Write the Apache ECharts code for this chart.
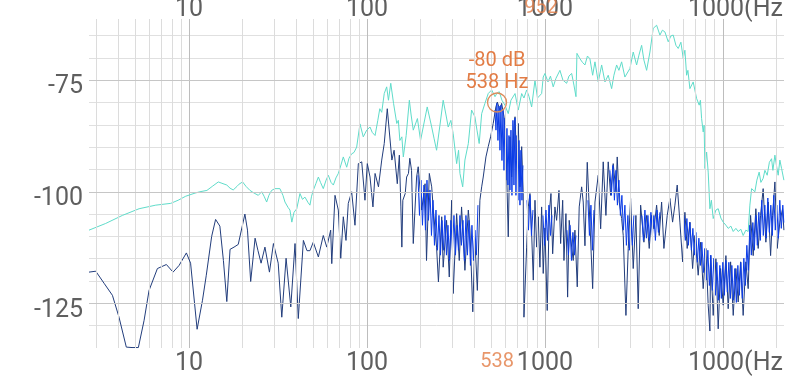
<!DOCTYPE html>
<html><head><meta charset="utf-8">
<script src="https://cdn.jsdelivr.net/npm/echarts@6/dist/echarts.min.js"></script>
<style>html,body{margin:0;padding:0;background:#fff}#c{width:792px;height:376px}</style>
</head><body><div id="c"></div>
<script>
// ---- axes ----
const xMin = 2.74, xMax = 22050;
const yMin = -135, yMax = -61.3;
const xTickValues = [10, 100, 1000, 10000];
const xTickLabels = ['10', '100', '1000', '1000(Hz'];
const xMinorLines = [3,4,5,6,7,8,9,20,30,40,50,60,70,80,90,200,300,400,500,600,700,800,900,2000,3000,4000,5000,6000,7000,8000,9000,20000];
const yTickLabels = [-75, -100, -125];
const yGridStep = 5;

// ---- cyan spectrum (Hz, dB) ----
const cyanFreq = [
2.74,3.40,4.22,5.24,6.50,7.89,8.68,9.58,10.8,11.5,
12.6,13.5,14.6,15.3,16.3,17.0,17.7,18.6,19.1,20.0,
20.9,22.0,23.2,24.5,25.6,26.4,27.3,28.1,29.1,30.4,
32.4,33.7,34.6,36.0,36.9,37.8,38.9,40.3,42.0,43.4,
44.8,46.6,47.8,48.8,49.9,51.7,53.3,54.8,56.8,58.9,
60.6,62.8,64.7,66.9,69.0,71.4,73.6,76.9,79.2,82.0,
84.5,87.5,91.3,95.3,99.6,104,107,111,115,118,
121,125,129,132,136,141,147,150,153,157,
160,166,173,177,182,192,200,207,218,231,
238,246,257,268,278,286,296,305,319,327,
333,345,355,371,387,404,415,427,441,460,
480,502,524,538,554,573,596,622,644,679,
708,740,762,789,813,842,879,908,958,978,
1000,1040,1074,1113,1153,1214,1262,1324,1364,1413,
1455,1494,1513,1573,1624,1678,1733,1789,1854,1910,
1993,2083,2174,2268,2370,2441,2528,2604,2697,2814,
3002,3134,3275,3375,3494,3599,3727,3890,4060,4242,
4427,4572,4723,4929,5104,5258,5445,5610,5808,5984,
6116,6254,6359,6525,6809,7116,7361,7476,7592,7750,
7843,7924,8099,8268,8453,8617,8822,9135,9410,9744,
10040,10400,10710,11090,11430,11830,12190,12620,13000,13460,
13870,14180,14500,15130,15520,15990,16350,16840,17220,17740,
18250,18770,19100,19600,19980,20450,20900,21370,22020];
const cyanDb = [
-108.6,-107.1,-105.3,-103.8,-103.0,-102.6,-101.9,-101.0,-100.3,-100.0,
-99.7,-98.8,-97.8,-98.1,-98.5,-99.2,-99.6,-98.8,-98.3,-97.8,
-98.8,-99.7,-100.3,-100.8,-100.0,-101.0,-102.3,-100.8,-99.7,-99.3,
-99.3,-100.8,-102.3,-103.5,-104.1,-106.8,-104.6,-103.8,-100.4,-101.7,
-101.2,-102.4,-103.0,-101.0,-99.7,-98.1,-96.7,-97.9,-99.3,-97.4,
-96.3,-97.9,-98.5,-96.9,-95.9,-94.0,-92.2,-94.5,-92.5,-91.5,
-91.2,-90.0,-84.8,-87.7,-86.2,-85.5,-86.7,-87.4,-84.0,-81.4,
-82.2,-78.0,-76.5,-79.5,-75.7,-80.2,-84.7,-84.0,-88.5,-87.7,
-92.2,-87.4,-79.5,-82.8,-86.2,-83.6,-88.5,-85.5,-81.0,-85.5,
-88.0,-90.7,-85.1,-79.5,-82.8,-85.5,-84.0,-87.0,-93.7,-90.7,
-95.9,-98.9,-92.9,-89.2,-81.7,-83.2,-86.2,-89.2,-82.5,-80.2,
-78.0,-77.2,-78.7,-77.9,-77.6,-79.5,-80.6,-82.5,-79.5,-78.0,
-81.7,-78.0,-79.0,-77.2,-78.6,-81.0,-75.0,-79.0,-78.0,-74.3,
-73.5,-75.4,-74.1,-76.5,-74.6,-72.8,-75.0,-75.7,-74.1,-73.5,
-76.1,-78.7,-69.0,-70.2,-71.0,-71.6,-69.6,-70.2,-73.9,-70.9,
-75.4,-71.6,-75.4,-73.9,-76.9,-73.9,-71.6,-72.8,-70.9,-74.3,
-72.4,-68.7,-71.6,-69.4,-67.2,-70.5,-72.8,-68.7,-63.4,-62.7,
-64.9,-63.8,-64.2,-66.4,-65.1,-64.9,-67.2,-67.9,-66.5,-70.1,
-68.3,-73.9,-72.8,-76.9,-75.4,-79.1,-80.6,-79.5,-83.6,-86.6,
-85.1,-94.8,-91.1,-95.6,-103.8,-101.9,-106.0,-104.1,-103.8,-105.9,
-106.8,-107.5,-108.2,-107.7,-108.9,-108.2,-108.9,-108.4,-109.8,-108.6,
-108.9,-103.0,-99.3,-100.0,-97.4,-95.6,-97.9,-97.0,-95.2,-96.3,
-93.4,-92.6,-95.2,-91.8,-94.0,-96.3,-92.9,-94.8,-97.4];

// ---- navy spectrum (Hz, dB) ----
const navyFreq = [
2.74,2.99,3.33,3.71,4.04,4.44,4.78,5.19,5.59,5.96,
6.64,7.46,8.13,8.79,9.66,10.2,11.1,11.9,12.5,13.4,
14.1,14.9,15.6,16.3,17.0,17.9,18.9,20.6,21.3,22.2,
23.5,24.4,25.4,26.7,28.3,29.8,31.7,33.2,35.1,37.3,
39.4,41.1,43.9,46.0,47.8,49.9,53.3,56.8,59.4,62.5,
63.4,66.1,69.0,71.2,73.6,76.2,78.5,82.0,85.6,89.4,
93.4,97.4,100.4,104,108,111,116,121,125,130,
133,138,142,148,152,155,157,159,164,167,
171,174,178,182,190,194,203,212,216,224,
231,236,246,252,263,268,280,290,299,305,
319,330,340,355,371,379,393,404,417,431,
441,450,466,480,495,512,530,540,559,571,
589,604,622,636,650,670,679,693,708,724,
740,755,762,789,806,824,842,860,879,898,
917,937,958,978,1000,1030,1057,1081,1105,1138,
1163,1199,1225,1258,1279,1312,1341,1369,1413,1442,
1474,1519,1558,1608,1641,1678,1729,1789,1854,1910,
1993,2056,2126,2201,2268,2339,2419,2506,2548,2615,
2697,2754,2852,2938,3030,3134,3245,3343,3449,3599,
3727,3855,3976,4097,4242,4387,4525,4661,4865,5037,
5216,5374,5537,5733,5937,6116,6301,6525,6757,6961,
7264,7494,7750,8025,8268,8453,8530,8822,9135,9410,
9707,10040,10397,10710,11050,11430,11830,12190,12570,13000,
13460,13870,14310,14800,15320,15790,16280,16840,17440,17970,
18540,19020,19600,20190,20900,21650,22020];
const navyDb = [
-118.0,-117.8,-120.5,-123.2,-128.1,-134.8,-134.9,-134.9,-128.8,-122.1,
-117.2,-116.3,-118.0,-116.5,-113.7,-116.0,-130.8,-124.3,-118.7,-110.0,
-106.2,-107.7,-115.4,-124.6,-112.9,-112.4,-111.8,-105.0,-108.6,-120.1,
-110.4,-113.2,-116.0,-112.4,-118.0,-111.6,-116.0,-128.1,-114.9,-125.8,
-111.6,-128.4,-110.9,-113.2,-113.2,-111.3,-114.6,-109.8,-112.4,-108.6,
-116.1,-100.8,-104.1,-114.9,-105.6,-110.9,-102.6,-100.0,-107.5,-93.7,
-93.3,-101.9,-93.7,-96.7,-103.4,-95.9,-98.9,-92.9,-89.2,-81.4,
-81.7,-92.9,-90.7,-98.2,-91.8,-103.4,-112.4,-101.9,-100.4,-96.7,
-95.9,-92.5,-95.2,-111.6,-96.7,-94.4,-104.1,-98.2,-115.4,-95.9,
-98.9,-104.1,-112.4,-120.2,-105.6,-116.9,-106.4,-119.1,-101.9,-122.8,
-104.9,-115.4,-103.4,-117.6,-104.1,-108.6,-126.9,-110.9,-122.1,-101.9,
-98.9,-96.7,-92.2,-89.9,-87.7,-84.7,-81.0,-79.9,-81.8,-80.2,
-83.2,-89.2,-110.1,-87.7,-96.7,-85.5,-83.2,-92.9,-84.7,-98.9,
-89.9,-100.4,-128.1,-112.4,-103.4,-100.4,-109.4,-119.8,-101.9,-112.4,
-105.6,-116.9,-103.4,-118.3,-108.1,-126.6,-104.9,-100.4,-113.9,-103.4,
-106.4,-99.7,-111.6,-101.9,-115.4,-104.9,-123.6,-106.4,-112.4,-115.4,
-108.6,-121.3,-103.4,-98.9,-102.3,-112.1,-93.4,-106.8,-121.7,-102.3,
-96.3,-108.3,-93.3,-105.3,-93.3,-100.8,-93.7,-100.0,-92.2,-102.3,
-106.0,-109.8,-127.7,-112.7,-101.5,-117.2,-105.3,-126.2,-103.0,-111.3,
-105.3,-112.7,-105.3,-108.3,-103.0,-109.8,-102.3,-112.7,-105.3,-101.5,
-106.8,-103.0,-98.5,-106.8,-115.7,-104.6,-112.7,-106.8,-117.2,-109.8,
-118.7,-111.3,-121.7,-112.7,-125.4,-131.2,-114.3,-127.7,-115.0,-130.7,
-117.2,-125.4,-114.3,-126.2,-115.7,-127.7,-117.2,-124.7,-115.7,-127.7,
-115.7,-121.7,-105.3,-114.3,-103.8,-112.7,-105.3,-99.3,-111.3,-102.3,
-114.3,-105.3,-97.8,-112.7,-106.8,-103.8,-108.6];

// ---- bright blue dense core, in separate stretches (Hz, dB) ----
const blueFreq = [
[193.4,197.2,201.0,205.0,209.0,213.1,217.3,221.5,225.9,230.3,234.8,239.4,244.1,248.9,253.8,258.7,263.8,269.0,274.2,279.6,285.1,290.7,296.4,302.2,308.1,314.1,320.3,326.5,332.9,339.4,346.1,352.9,359.8,366.8,374.0,381.3,388.8,396.4,404.2,412.1,420.2],
[523.7,530.5,537.4,544.4,551.5,558.7,566.0,573.3,580.8,588.4,596.0,603.8,611.6,619.6,627.7,635.8,644.1,652.5,661.0,669.6,678.3,687.1,696.1,705.1,714.3,723.6,733.0,742.6,752.2],
[792.4,807.9,823.7,839.8,856.3],
[974.4,993.5,1013,1033,1053,1074,1095],
[1329,1355,1382,1409,1436,1465,1493],
[1744,1778,1813,1848,1885],
[2318,2363,2409,2457,2505,2554,2604,2655,2707,2760,2814,2869,2925,2982,3041,3100,3161],
[3507,3576,3646,3717,3790,3864,3940,4017,4096,4176,4258,4341,4426],
[6037,6155,6276,6399,6524,6652,6782,6915,7050,7188,7329,7473,7619,7768,7920,8075,8234,8395,8559,8727,8898,9072,9249,9430,9615,9803,9995,10191,10391,10594,10802,11013,11229,11449,11673,11902,12135,12372,12615,12862,13114,13370,13632,13899,14171,14449,14732,15020,15314,15614,15920,16231,16549,16873,17203,17540,17884,18234,18591,18955,19326,19704,20090,20483,20884,21293,21710,22000]];
const blueDb = [
[-96.3,-105.3,-97.4,-107.5,-98.5,-108.6,-97.4,-106.4,-99.6,-109.8,-101.9,-112.0,-104.1,-113.1,-105.3,-114.2,-106.4,-113.1,-105.3,-114.2,-107.5,-115.4,-106.4,-113.1,-105.3,-114.2,-107.5,-113.1,-105.3,-112.0,-106.4,-115.4,-105.3,-114.2,-106.4,-116.5,-107.5,-115.4,-108.6,-114.2,-103.0],
[-81.7,-86.2,-80.2,-88.5,-80.8,-90.7,-80.6,-93.0,-81.7,-95.2,-83.5,-97.4,-85.8,-98.5,-87.4,-99.6,-86.2,-100.8,-84.0,-98.5,-83.5,-100.8,-87.4,-101.9,-88.5,-103.0,-90.7,-101.9,-94.1],
[-101.9,-108.6,-100.8,-109.8,-104.1],
[-105.3,-112.0,-104.1,-110.9,-103.0,-109.8,-105.3],
[-108.6,-114.2,-107.5,-115.4,-109.1,-114.2,-109.8],
[-101.9,-109.8,-103.0,-113.1,-104.1],
[-95.2,-100.8,-94.1,-101.9,-95.2,-103.0,-97.4,-105.3,-100.8,-108.6,-103.0,-112.0,-105.3,-113.1,-106.4,-112.0,-105.3],
[-105.3,-110.9,-104.1,-110.4,-105.3,-110.9,-104.6,-109.8,-105.3,-110.9,-104.1,-109.1,-104.6],
[-105.3,-110.9,-106.0,-112.0,-106.9,-113.1,-108.2,-114.2,-109.1,-115.8,-110.4,-116.5,-111.3,-118.1,-112.7,-119.8,-113.1,-121.0,-114.2,-122.1,-114.9,-123.2,-115.8,-124.3,-116.5,-123.9,-115.8,-123.2,-115.4,-122.5,-115.8,-123.9,-116.5,-124.3,-117.2,-124.8,-116.5,-123.2,-115.8,-123.9,-114.9,-121.0,-112.0,-117.6,-107.5,-114.2,-106.9,-113.1,-105.3,-112.0,-104.6,-110.9,-101.9,-109.8,-103.0,-110.4,-101.4,-109.1,-103.0,-109.8,-100.8,-108.6,-103.0,-110.4,-101.9,-108.2,-103.0,-106.9]];

// ---- markers ----
const peakFreq = 538, peakDb = -80;
const peakLabel = '-80 dB\n538 Hz';
const cursorFreqs = [538, 952];
const cursorTexts = ['538', '952'];

// ---- build ----
const zip = (f, d) => f.slice(0, Math.min(f.length, d.length)).map((v, i) => [v, d[i]]);
const blueData = [];
blueFreq.forEach((seg, k) => {
  if (k > 0) blueData.push([seg[0], '-']);
  zip(seg, blueDb[k]).forEach(p => blueData.push(p));
});

const GRAY = '#5f5f5f', ORANGE = '#e27c45', FONT = 'Roboto';
const isTick = (v, t) => Math.abs(Math.log10(v) - Math.log10(t)) < 1e-6;
function xLabel(v) {
  for (let i = 0; i < xTickValues.length; i++) {
    if (isTick(v, xTickValues[i])) {
      return i === xTickValues.length - 1 ? '{hz|' + xTickLabels[i] + '}' : xTickLabels[i];
    }
  }
  return '';
}
const xLabelStyle = (margin) => ({
  show: true, formatter: xLabel, fontSize: 25, color: GRAY, fontFamily: FONT, margin: margin,
  showMinLabel: true, showMaxLabel: true, hideOverlap: false,
  rich: { hz: { fontSize: 25, color: GRAY, fontFamily: FONT, padding: [0, 0, 0, 25] } }
});
function yLabel(v) {
  const r = Math.round(v);
  return (yTickLabels.indexOf(r) >= 0 && Math.abs(v - r) < 1e-6) ? String(r) : '';
}

const chart = echarts.init(document.getElementById('c'), null, { renderer: 'canvas' });
chart.setOption({
  animation: false,
  backgroundColor: '#ffffff',
  grid: { left: 89, right: 8, top: 19, bottom: 28, containLabel: false, outerBoundsMode: 'none' },
  xAxis: [
    { type: 'log', logBase: 10, min: xMin, max: xMax, position: 'bottom',
      axisLine: { show: false }, axisTick: { show: false },
      splitLine: { show: true, showMinLine: false, showMaxLine: false, lineStyle: { color: '#bdbdbd', width: 1 } },
      axisLabel: xLabelStyle(3) },
    { type: 'log', logBase: 10, min: xMin, max: xMax, position: 'top',
      axisLine: { show: false }, axisTick: { show: false }, splitLine: { show: false },
      axisLabel: xLabelStyle(-3) }
  ],
  yAxis: {
    type: 'value', min: yMin, max: yMax, interval: yGridStep,
    axisLine: { show: false }, axisTick: { show: false },
    splitLine: { show: true, showMinLine: false, showMaxLine: false, lineStyle: { color: '#e0e0e0', width: 1 } },
    axisLabel: {
      formatter: yLabel, fontSize: 25, color: GRAY, fontFamily: FONT, margin: 6,
      verticalAlign: 'top', lineHeight: 14,
      showMinLabel: true, showMaxLabel: true
    }
  },
  series: [
    { type: 'line', name: 'grid', data: [], z: 1, silent: true,
      markLine: {
        silent: true, symbol: ['none', 'none'], label: { show: false }, animation: false,
        lineStyle: { color: '#dcdcdc', width: 1, type: 'solid' },
        emphasis: { disabled: true },
        data: xMinorLines.map(v => ({ xAxis: v }))
          .concat(yTickLabels.map(v => ({ yAxis: v, lineStyle: { color: '#c6c6c6', width: 1, type: 'solid' } })))
      } },
    { type: 'line', name: 'cyan', data: zip(cyanFreq, cyanDb), symbol: 'none',
      lineStyle: { color: '#5fdcca', width: 1 }, z: 2, silent: true },
    { type: 'line', name: 'navy', data: zip(navyFreq, navyDb), symbol: 'none',
      lineStyle: { color: '#223d7c', width: 1 }, z: 3, silent: true },
    { type: 'line', name: 'blue', data: blueData, symbol: 'none', connectNulls: false,
      lineStyle: { color: '#0b3ce8', width: 1 }, z: 4, silent: true },
    { type: 'scatter', name: 'peak', data: [[peakFreq, peakDb]], symbol: 'circle', symbolSize: 19, z: 6, silent: true,
      itemStyle: { color: 'rgba(255,255,255,0)', borderColor: '#dc8d5c', borderWidth: 1.3, opacity: 1 },
      label: { show: true, position: 'top', distance: -2, formatter: peakLabel, fontSize: 20, lineHeight: 22,
               color: ORANGE, fontFamily: FONT, align: 'center' } },
    { type: 'scatter', name: 'cursor', clip: false, symbolSize: 0, z: 7, silent: true,
      data: cursorFreqs.map((f, i) => ({ value: [f, i === 0 ? -138.1 : -58.9], name: cursorTexts[i] })),
      label: { show: true, position: 'inside', formatter: p => p.name, fontSize: 20, color: ORANGE, fontFamily: FONT } }
  ]
});
</script></body></html>
